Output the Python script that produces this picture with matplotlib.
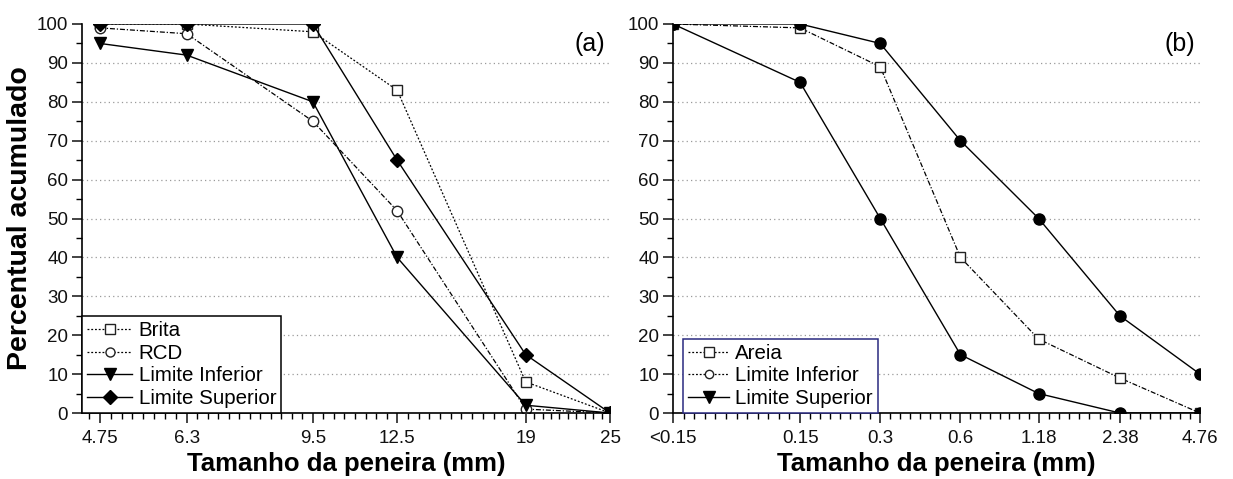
import matplotlib
matplotlib.use("Agg")
import matplotlib.pyplot as plt
import numpy as np
from matplotlib.lines import Line2D
from matplotlib import font_manager
from matplotlib.ticker import FixedLocator, FixedFormatter, NullFormatter

names = {f.name for f in font_manager.fontManager.ttflist}
FONT = 'Liberation Sans' if 'Liberation Sans' in names else 'DejaVu Sans'
plt.rcParams['font.family'] = [FONT, 'DejaVu Sans']

# ---------------- data ----------------
# panel (a) - coarse aggregate
sieve_a = [4.75, 6.3, 9.5, 12.5, 19, 25]
sieve_a_labels = ['4.75', '6.3', '9.5', '12.5', '19', '25']
brita = [100, 100, 98, 83, 8, 0]
rcd = [99, 97.5, 75, 52, 1, 0]
lim_inf_a = [95, 92, 80, 40, 2, 0]
lim_sup_a = [100, 100, 100, 65, 15, 0]

# panel (b) - fine aggregate ("<0.15" placed at 0.05)
sieve_b = [0.05, 0.15, 0.3, 0.6, 1.18, 2.38, 4.76]
sieve_b_labels = ['<0.15', '0.15', '0.3', '0.6', '1.18', '2.38', '4.76']
areia = [100, 99, 89, 40, 19, 9, 0]
lim_sup_b = [100, 100, 95, 70, 50, 25, 10]
lim_inf_b = [100, 85, 50, 15, 5, 0, 0]

y_ticks = [0, 10, 20, 30, 40, 50, 60, 70, 80, 90, 100]

# ---------------- style ----------------
TICK_FS = 13.5
XLAB_FS = 18.5
YLAB_FS = 20.5
LEG_FS = 14.8
DOT = (0, (1.5, 1.5))
DASHDOT = (0, (4, 1.5, 1, 1.5))


def minor_positions(majors, counts, xmin):
    pos = []
    for (a, b), n in zip(zip(majors[:-1], majors[1:]), counts):
        la, lb = np.log10(a), np.log10(b)
        pos += [10 ** (la + (lb - la) * k / n) for k in range(1, n)]
    la, lb = np.log10(majors[0]), np.log10(majors[1])
    step = (lb - la) / counts[0]
    v = la - step
    while v > np.log10(xmin):
        pos.append(10 ** v)
        v -= step
    return pos


def style_axes(ax, xmin, xmax, majors, labels, minor_counts):
    ax.set_xscale('log')
    ax.set_xlim(xmin, xmax)
    ax.set_ylim(0, 100)
    ax.xaxis.set_major_locator(FixedLocator(majors))
    ax.xaxis.set_major_formatter(FixedFormatter(labels))
    ax.xaxis.set_minor_locator(FixedLocator(minor_positions(majors, minor_counts, xmin)))
    ax.xaxis.set_minor_formatter(NullFormatter())
    ax.set_yticks(y_ticks)
    ax.set_yticks([5, 15, 25, 35, 45, 55, 65, 75, 85, 95], minor=True)
    for s in ['top', 'right']:
        ax.spines[s].set_visible(False)
    for s in ['left', 'bottom']:
        ax.spines[s].set_linewidth(1.2)
    ax.tick_params(which='major', direction='out', length=7, width=1.1,
                   labelsize=TICK_FS, colors='#111111')
    ax.tick_params(which='minor', direction='out', length=4, width=1.0)
    ax.tick_params(axis='x', which='major', pad=5)
    ax.tick_params(axis='y', which='major', pad=3)
    for yv in y_ticks[1:-1]:
        ax.axhline(yv, color='#9a9a9a', lw=0.9, ls=(0, (1, 2.5)), zorder=0)
    ax.set_xlabel('Tamanho da peneira (mm)', fontsize=XLAB_FS, fontweight='bold')
    ax.xaxis.set_label_coords(0.5, -0.1)


fig = plt.figure(figsize=(12.33, 4.79), dpi=100)
W, H = 1233, 479
axA = fig.add_axes([82 / W, 1 - 413 / H, (610 - 82) / W, 389 / H])
axB = fig.add_axes([673 / W, 1 - 413 / H, (1200 - 673) / W, 389 / H])

# ---- panel (a) ----
style_axes(axA, 4.48, 25, sieve_a, sieve_a_labels, [8, 12, 8, 12, 10])
axA.plot(sieve_a, brita, color='k', lw=0.9, ls=DOT, marker='s', ms=7,
         mfc='white', mec='#222222', mew=1.0)
axA.plot(sieve_a, rcd, color='k', lw=0.9, ls=DASHDOT, marker='o', ms=7.5,
         mfc='white', mec='#222222', mew=1.0)
axA.plot(sieve_a, lim_inf_a, color='k', lw=1.0, ls='-', marker='v', ms=8.5,
         mfc='black', mec='black')
axA.plot(sieve_a, lim_sup_a, color='k', lw=1.0, ls='-', marker='D', ms=7.5,
         mfc='black', mec='black')
axA.set_ylabel('Percentual acumulado', fontsize=YLAB_FS, fontweight='bold')
axA.yaxis.set_label_coords(-0.093, 0.5)
axA.text(0.99, 0.949, '(a)', transform=axA.transAxes, ha='right', va='center',
         fontsize=18)

hA = [
    Line2D([], [], color='k', lw=0.9, ls=DOT, marker='s', ms=6.5, mfc='white', mec='#222222'),
    Line2D([], [], color='k', lw=0.9, ls=DOT, marker='o', ms=6.5, mfc='white', mec='#222222'),
    Line2D([], [], color='k', lw=1.0, ls='-', marker='v', ms=8.5, mfc='k', mec='k'),
    Line2D([], [], color='k', lw=1.0, ls='-', marker='D', ms=7.5, mfc='k', mec='k'),
]
legA = axA.legend(hA, ['Brita', 'RCD', 'Limite Inferior', 'Limite Superior'],
                  loc='lower left', bbox_to_anchor=(0, 0), borderaxespad=0,
                  fontsize=LEG_FS, fancybox=False, framealpha=1, edgecolor='k',
                  handlelength=2.2, handletextpad=0.3, labelspacing=0.17,
                  borderpad=0.25)
legA.get_frame().set_linewidth(1.1)

# ---- panel (b) ----
style_axes(axB, 0.05, 4.76, sieve_b, sieve_b_labels, [12, 8, 8, 8, 8, 8])
axB.plot(sieve_b, areia, color='k', lw=0.9, ls=DASHDOT, marker='s', ms=7,
         mfc='white', mec='#222222', mew=1.0)
axB.plot(sieve_b, lim_sup_b, color='k', lw=1.0, ls='-', marker='o', ms=8,
         mfc='black', mec='black')
axB.plot(sieve_b, lim_inf_b, color='k', lw=1.0, ls='-', marker='o', ms=8,
         mfc='black', mec='black')
axB.text(0.99, 0.949, '(b)', transform=axB.transAxes, ha='right', va='center',
         fontsize=18)

hB = [
    Line2D([], [], color='k', lw=0.9, ls=DOT, marker='s', ms=6.5, mfc='white', mec='#222222'),
    Line2D([], [], color='k', lw=0.9, ls=DOT, marker='o', ms=6, mfc='white', mec='#222222'),
    Line2D([], [], color='k', lw=1.0, ls='-', marker='v', ms=8.5, mfc='k', mec='k'),
]
legB = axB.legend(hB, ['Areia', 'Limite Inferior', 'Limite Superior'],
                  loc='lower left', bbox_to_anchor=(10 / 527, 0), borderaxespad=0,
                  fontsize=LEG_FS, fancybox=False, framealpha=1, edgecolor='#2a2a80',
                  handlelength=2.0, handletextpad=0.3, labelspacing=0.17,
                  borderpad=0.25)
legB.get_frame().set_linewidth(1.1)

fig.savefig('out.png', dpi=100)
